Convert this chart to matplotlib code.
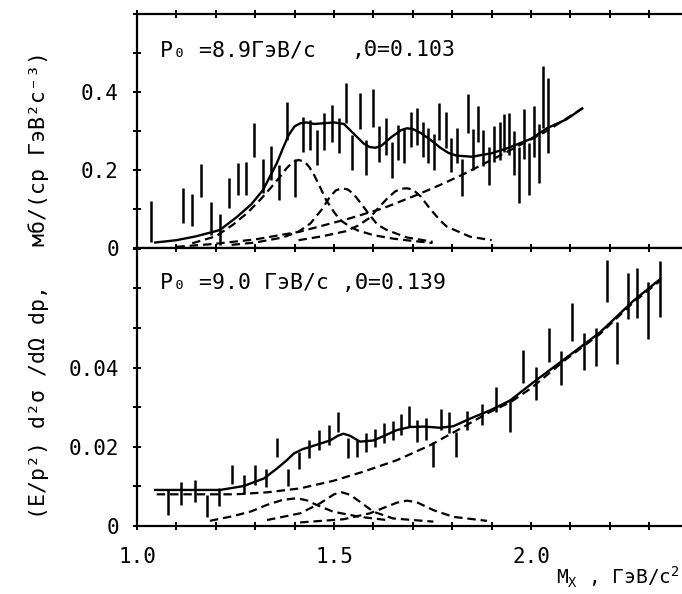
import matplotlib
matplotlib.use("Agg")
import matplotlib.pyplot as plt
from matplotlib.ticker import MultipleLocator, FixedLocator

plt.rcParams['font.family'] = ['DejaVu Sans Mono', 'DejaVu Sans']

# --- верхня панель: p0 = 8.9 ГэВ/c, theta = 0.103 ---
top_x = [1.036, 1.116, 1.140, 1.163, 1.188, 1.211, 1.234, 1.256, 1.277, 1.297,
         1.320, 1.340, 1.361, 1.381, 1.402, 1.421, 1.439, 1.458, 1.475, 1.494,
         1.513, 1.530, 1.546, 1.566, 1.581, 1.598, 1.615, 1.632, 1.646, 1.663,
         1.678, 1.695, 1.710, 1.725, 1.739, 1.754, 1.767, 1.784, 1.797, 1.811,
         1.824, 1.840, 1.852, 1.865, 1.879, 1.893, 1.906, 1.920, 1.932, 1.945,
         1.957, 1.970, 1.982, 1.995, 2.008, 2.020, 2.030, 2.042]
top_y = [0.068, 0.109, 0.098, 0.174, 0.075, 0.047, 0.141, 0.177, 0.178, 0.277,
         0.185, 0.218, 0.168, 0.326, 0.179, 0.292, 0.290, 0.258, 0.299, 0.320,
         0.288, 0.372, 0.245, 0.351, 0.232, 0.360, 0.267, 0.286, 0.226, 0.271,
         0.262, 0.305, 0.312, 0.279, 0.262, 0.246, 0.324, 0.303, 0.239, 0.262,
         0.180, 0.345, 0.252, 0.319, 0.256, 0.210, 0.267, 0.274, 0.295, 0.292,
         0.244, 0.187, 0.292, 0.202, 0.299, 0.242, 0.387, 0.340]
top_err = [0.052, 0.046, 0.041, 0.042, 0.042, 0.039, 0.039, 0.041, 0.042, 0.044,
           0.043, 0.044, 0.045, 0.049, 0.049, 0.045, 0.039, 0.045, 0.048, 0.047,
           0.045, 0.052, 0.045, 0.047, 0.045, 0.049, 0.046, 0.048, 0.047, 0.045,
           0.045, 0.045, 0.048, 0.045, 0.045, 0.046, 0.047, 0.047, 0.043, 0.045,
           0.047, 0.049, 0.052, 0.046, 0.047, 0.048, 0.046, 0.048, 0.048, 0.054,
           0.057, 0.071, 0.065, 0.066, 0.065, 0.076, 0.080, 0.096]

top_fit_x = [1.046, 1.10, 1.15, 1.21, 1.254, 1.29, 1.32, 1.355, 1.37, 1.385, 1.40,
             1.415, 1.43, 1.45, 1.50, 1.525, 1.54, 1.558, 1.575, 1.59, 1.605, 1.62,
             1.645, 1.67, 1.685, 1.70, 1.72, 1.745, 1.77, 1.79, 1.81, 1.85, 1.90,
             1.94, 2.00, 2.04, 2.09, 2.13]
top_fit_y = [0.014, 0.020, 0.030, 0.046, 0.080, 0.112, 0.149, 0.218, 0.255, 0.290, 0.312,
             0.320, 0.322, 0.318, 0.322, 0.318, 0.303, 0.285, 0.268, 0.259, 0.257, 0.262,
             0.284, 0.302, 0.307, 0.305, 0.295, 0.277, 0.257, 0.244, 0.237, 0.234, 0.243,
             0.256, 0.280, 0.307, 0.330, 0.358]

top_bg_x = [1.10, 1.19, 1.30, 1.414, 1.54, 1.625, 1.71, 1.77, 1.83, 1.94, 2.04, 2.13]
top_bg_y = [0.003, 0.010, 0.022, 0.042, 0.076, 0.102, 0.136, 0.162, 0.190, 0.247, 0.300, 0.358]

top_r1_x = [1.14, 1.20, 1.244, 1.28, 1.312, 1.34, 1.363, 1.38, 1.395, 1.41, 1.425, 1.437,
            1.45, 1.465, 1.48, 1.50, 1.515, 1.54, 1.56, 1.60, 1.65, 1.70, 1.75]
top_r1_y = [0.012, 0.030, 0.060, 0.090, 0.123, 0.155, 0.183, 0.205, 0.220, 0.226, 0.221, 0.208,
            0.186, 0.155, 0.123, 0.092, 0.072, 0.055, 0.045, 0.033, 0.024, 0.018, 0.013]

top_r2_x = [1.24, 1.30, 1.37, 1.41, 1.44, 1.47, 1.49, 1.505, 1.52, 1.535, 1.55, 1.57,
            1.59, 1.61, 1.634, 1.685, 1.75]
top_r2_y = [0.008, 0.014, 0.027, 0.042, 0.063, 0.100, 0.132, 0.148, 0.153, 0.150, 0.138,
            0.112, 0.085, 0.060, 0.046, 0.027, 0.016]

top_r3_x = [1.41, 1.47, 1.53, 1.56, 1.59, 1.61, 1.634, 1.655, 1.67, 1.685, 1.70, 1.72,
            1.744, 1.77, 1.786, 1.845, 1.90]
top_r3_y = [0.020, 0.030, 0.043, 0.057, 0.077, 0.100, 0.126, 0.145, 0.152, 0.153, 0.150,
            0.132, 0.100, 0.070, 0.055, 0.029, 0.020]

# --- нижня панель: p0 = 9.0 ГэВ/c, theta = 0.139 ---
bot_x = [1.079, 1.112, 1.146, 1.178, 1.209, 1.241, 1.271, 1.300, 1.328, 1.355,
         1.383, 1.412, 1.437, 1.463, 1.488, 1.511, 1.536, 1.559, 1.581, 1.604,
         1.627, 1.649, 1.670, 1.691, 1.711, 1.734, 1.752, 1.772, 1.792, 1.810,
         1.837, 1.875, 1.910, 1.947, 1.980, 2.013, 2.046, 2.075, 2.105, 2.135,
         2.164, 2.192, 2.219, 2.245, 2.270, 2.296, 2.326]
bot_y = [0.0060, 0.0082, 0.0089, 0.0051, 0.0073, 0.0131, 0.0106, 0.0128, 0.0121, 0.0198,
         0.0123, 0.0166, 0.0195, 0.0218, 0.0229, 0.0262, 0.0196, 0.0196, 0.0211, 0.0223,
         0.0235, 0.0241, 0.0256, 0.0277, 0.0240, 0.0245, 0.0181, 0.0269, 0.0261, 0.0205,
         0.0266, 0.0281, 0.0319, 0.0279, 0.0403, 0.0359, 0.0456, 0.0399, 0.0514, 0.0441,
         0.0453, 0.0618, 0.0462, 0.0581, 0.0589, 0.0544, 0.0599]
bot_err = [0.0032, 0.0030, 0.0028, 0.0028, 0.0023, 0.0024, 0.0024, 0.0025, 0.0022, 0.0024,
           0.0022, 0.0021, 0.0023, 0.0025, 0.0025, 0.0025, 0.0025, 0.0022, 0.0024, 0.0023,
           0.0025, 0.0024, 0.0027, 0.0027, 0.0027, 0.0028, 0.0031, 0.0027, 0.0027, 0.0032,
           0.0024, 0.0027, 0.0031, 0.0042, 0.0042, 0.0042, 0.0043, 0.0044, 0.0048, 0.0047,
           0.0048, 0.0053, 0.0052, 0.0059, 0.0063, 0.0071, 0.0071]

bot_fit_x = [1.046, 1.12, 1.211, 1.271, 1.322, 1.355, 1.38, 1.398, 1.42, 1.44, 1.49, 1.51,
             1.524, 1.54, 1.566, 1.60, 1.63, 1.659, 1.693, 1.73, 1.769, 1.803, 1.845,
             1.896, 1.947, 2.006, 2.091, 2.175, 2.26, 2.327]
bot_fit_y = [0.0091, 0.0091, 0.0091, 0.0101, 0.0120, 0.0145, 0.0166, 0.0183, 0.0194, 0.0200,
             0.0216, 0.0228, 0.0233, 0.0228, 0.0213, 0.0216, 0.0229, 0.0242, 0.0250, 0.0251,
             0.0248, 0.0252, 0.0271, 0.0292, 0.0317, 0.0363, 0.0426, 0.0489, 0.0569, 0.0623]

bot_bg_x = [1.05, 1.16, 1.25, 1.33, 1.414, 1.498, 1.574, 1.659, 1.744, 1.828, 1.888,
            1.95, 2.00, 2.09, 2.175, 2.26, 2.327]
bot_bg_y = [0.0080, 0.0080, 0.0080, 0.0085, 0.0095, 0.0114, 0.0137, 0.0166, 0.0204, 0.0250,
            0.0284, 0.0314, 0.0348, 0.0422, 0.0485, 0.0565, 0.0619]

bot_r1_x = [1.185, 1.244, 1.29, 1.329, 1.37, 1.405, 1.43, 1.456, 1.498, 1.566, 1.634]
bot_r1_y = [0.0013, 0.0025, 0.0037, 0.0053, 0.0066, 0.0070, 0.0065, 0.0053, 0.0036, 0.0023, 0.0015]

bot_r2_x = [1.33, 1.414, 1.464, 1.50, 1.52, 1.54, 1.566, 1.60, 1.65, 1.752]
bot_r2_y = [0.0015, 0.0032, 0.0057, 0.0080, 0.0085, 0.0079, 0.0061, 0.0036, 0.0019, 0.0011]

bot_r3_x = [1.414, 1.524, 1.591, 1.634, 1.66, 1.685, 1.71, 1.752, 1.803, 1.888]
bot_r3_y = [0.0009, 0.0017, 0.0032, 0.0049, 0.0059, 0.0064, 0.0060, 0.0040, 0.0023, 0.0013]

x_ticks = [1.0, 1.5, 2.0]
top_yticks = [0, 0.2, 0.4]
bot_yticks = [0, 0.02, 0.04]

DASH = (0, (3.8, 2.2))


def style_axis(ax, ymax, ystep, yticks, ylabels):
    ax.set_xlim(1.0, 2.383)
    ax.set_ylim(0, ymax)
    ax.spines['right'].set_visible(False)
    for s in ['left', 'top', 'bottom']:
        ax.spines[s].set_linewidth(1.6)
    ax.xaxis.set_major_locator(FixedLocator(x_ticks))
    ax.xaxis.set_minor_locator(MultipleLocator(0.1))
    ax.yaxis.set_major_locator(FixedLocator(yticks))
    ax.yaxis.set_minor_locator(MultipleLocator(ystep))
    ax.set_yticklabels(ylabels)
    ax.tick_params(which='both', direction='inout', length=6, width=1.4,
                   top=True, bottom=True, left=True, right=False, labelsize=15)
    ax.tick_params(axis='y', pad=10)
    ax.tick_params(axis='x', pad=12)


def draw_panel(ax, x, y, err, fit_x, fit_y, bg_x, bg_y, peaks):
    ax.errorbar(x, y, yerr=err, fmt='none', ecolor='black', elinewidth=1.8, capsize=0)
    ax.plot(fit_x, fit_y, color='black', lw=1.7)
    ax.plot(bg_x, bg_y, color='black', lw=1.6, linestyle=DASH)
    for px, py in peaks:
        ax.plot(px, py, color='black', lw=1.6, linestyle=DASH)


fig = plt.figure(figsize=(6.82, 5.94), dpi=100)
ax1 = fig.add_axes([0.2009, 0.5825, 0.7991, 0.3939])
ax2 = fig.add_axes([0.2009, 0.1145, 0.7991, 0.4680])

draw_panel(ax1, top_x, top_y, top_err, top_fit_x, top_fit_y, top_bg_x, top_bg_y,
           [(top_r1_x, top_r1_y), (top_r2_x, top_r2_y), (top_r3_x, top_r3_y)])
draw_panel(ax2, bot_x, bot_y, bot_err, bot_fit_x, bot_fit_y, bot_bg_x, bot_bg_y,
           [(bot_r1_x, bot_r1_y), (bot_r2_x, bot_r2_y), (bot_r3_x, bot_r3_y)])

style_axis(ax1, 0.6, 0.1, top_yticks, ['0', '0.2', '0.4'])
style_axis(ax2, 0.0702, 0.01, bot_yticks, ['0', '0.02', '0.04'])
ax1.tick_params(labelbottom=False)
ax2.set_xticklabels(['1.0', '1.5', '2.0'])

ax1.text(0.042, 0.846, 'P\u2080 =8.9ГэВ/c', transform=ax1.transAxes,
         fontsize=15.5, va='center', ha='left')
ax1.text(0.394, 0.846, ',\u0398=0.103', transform=ax1.transAxes,
         fontsize=15.5, va='center', ha='left')
ax2.text(0.042, 0.874, 'P\u2080 =9.0 ГэВ/c ,\u0398=0.139', transform=ax2.transAxes,
         fontsize=15.5, va='center', ha='left')

fig.text(0.056, 0.52, '(E/p\u00b2) d\u00b2\u03c3 /d\u03a9 dp,   мб/(ср ГэВ\u00b2с\u207b\u00b3)',
         rotation=90, fontsize=15.5, ha='center', va='center')
fig.text(0.997, 0.006, 'M$_\\mathregular{X}$ , ГэВ/c$^\\mathregular{2}$',
         fontsize=14, ha='right', va='bottom')

fig.savefig('out.png', dpi=100)
